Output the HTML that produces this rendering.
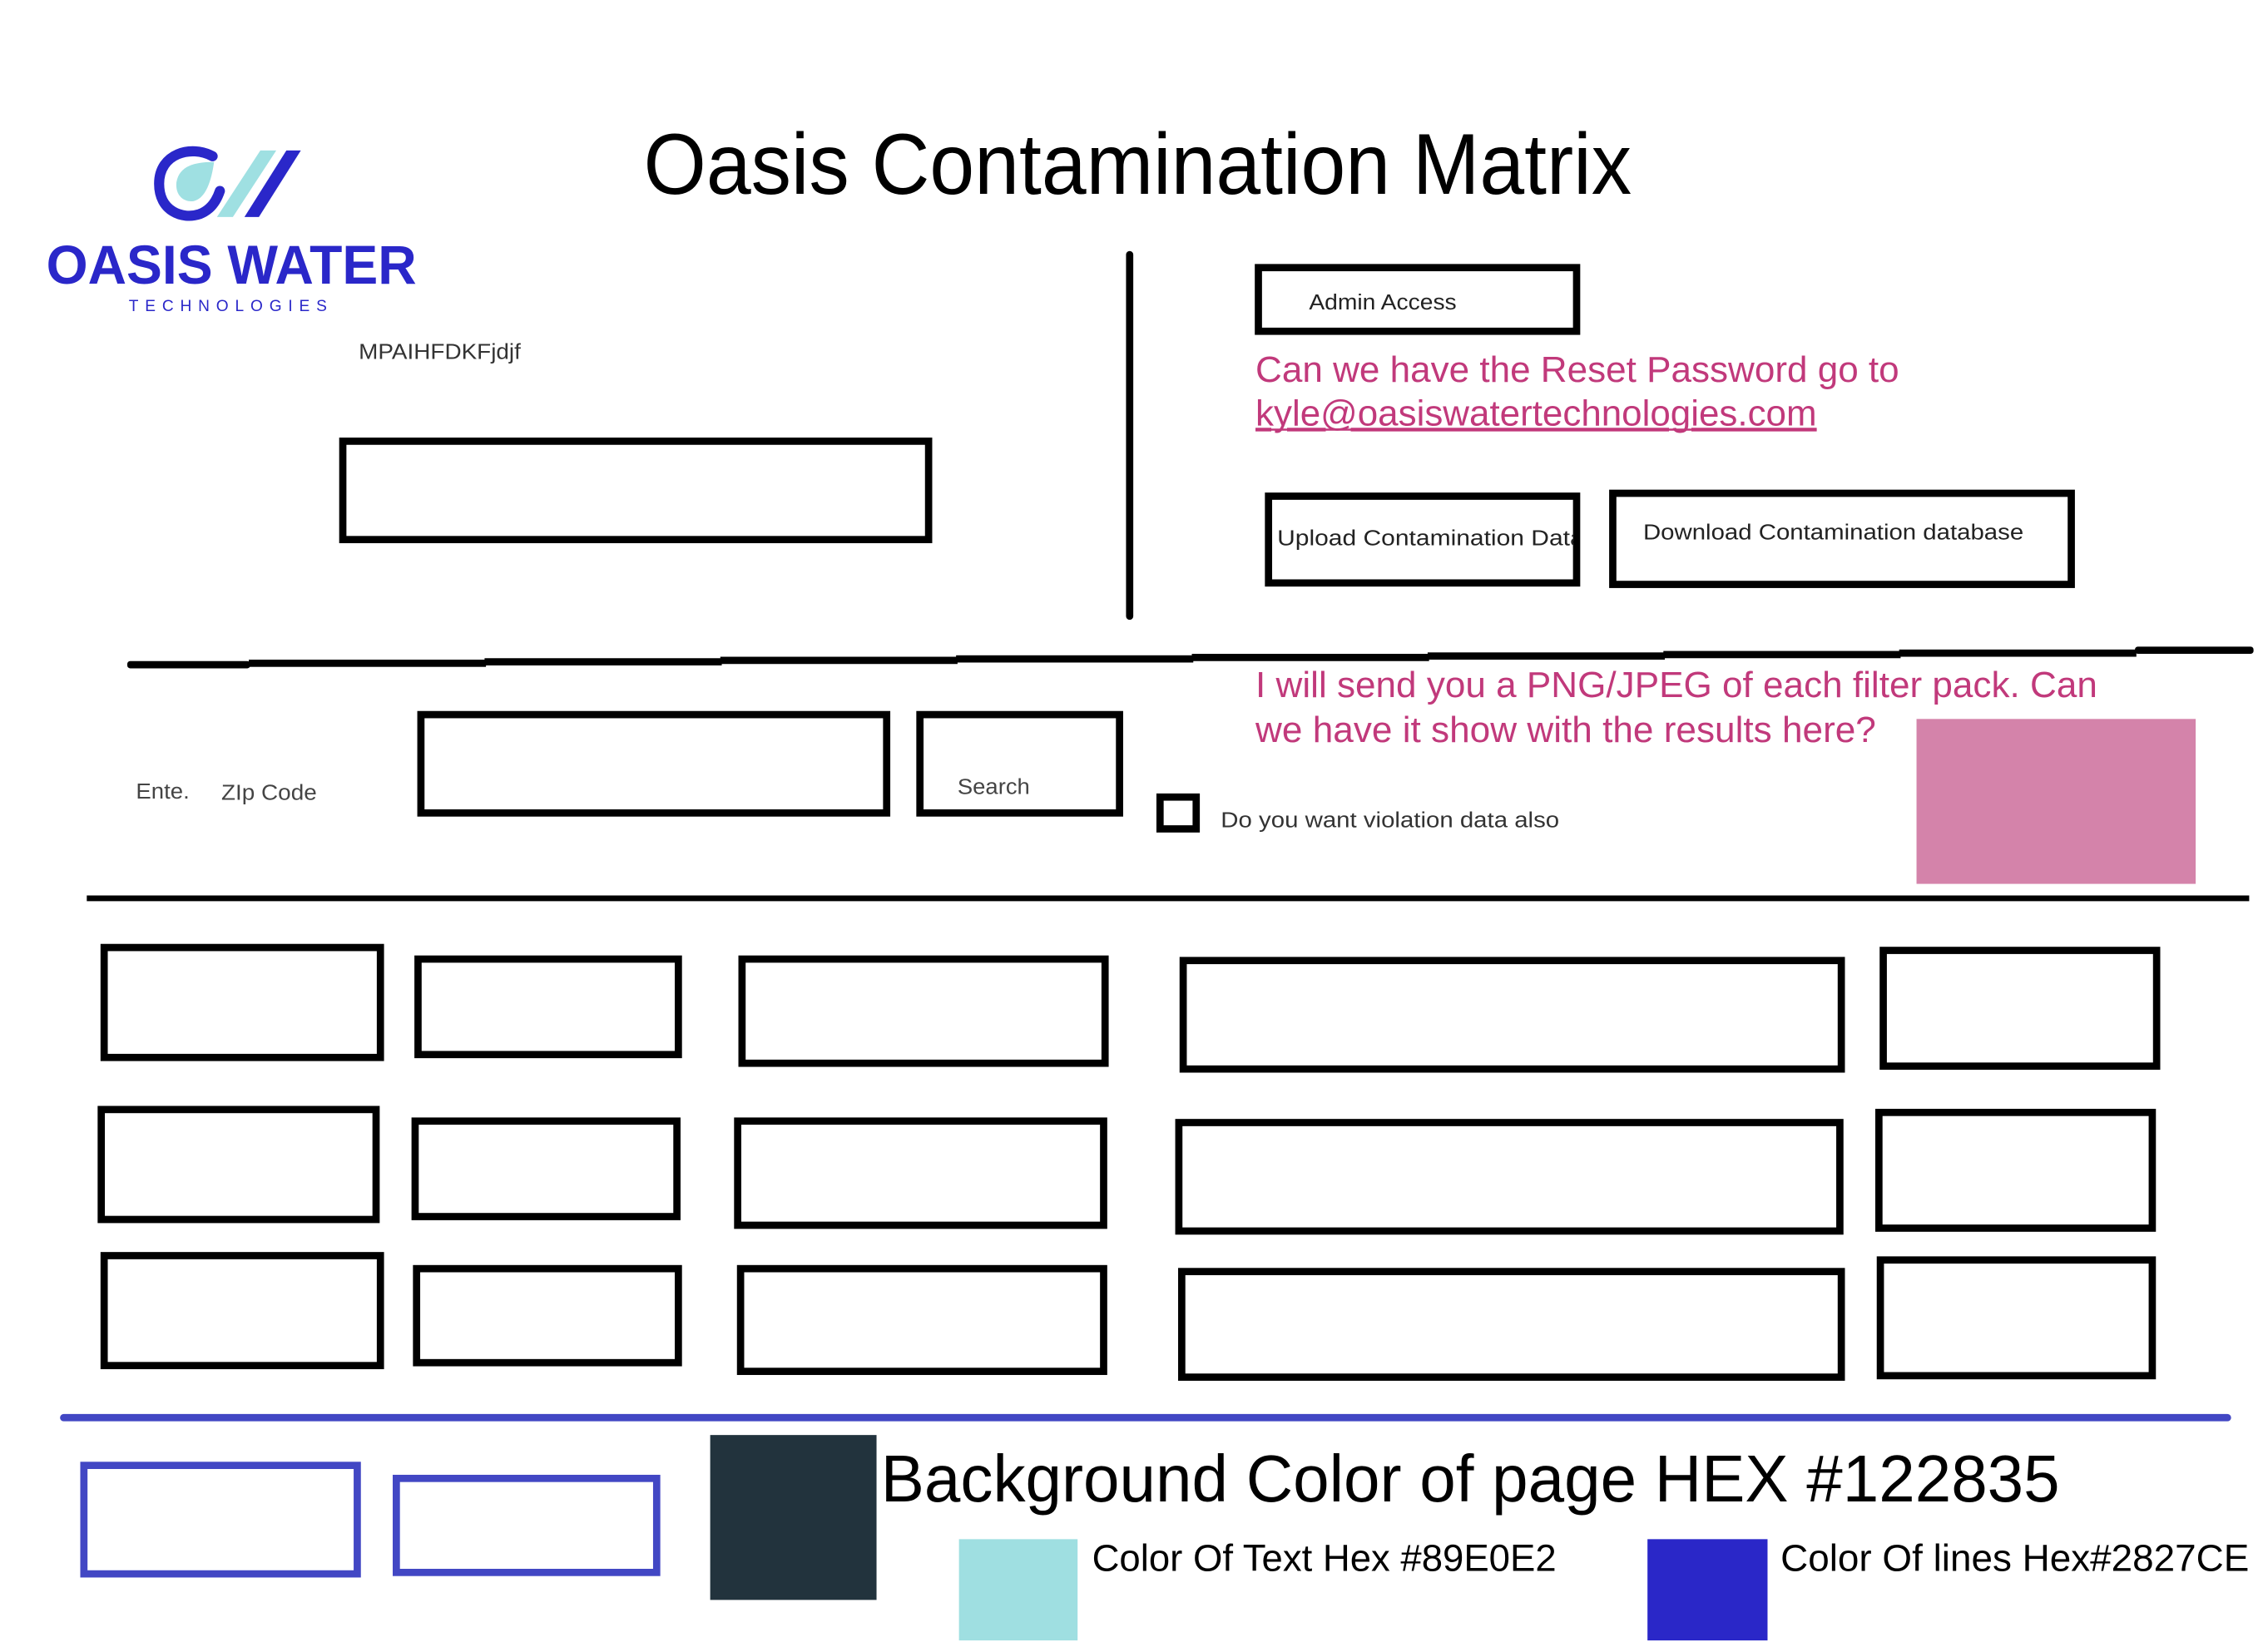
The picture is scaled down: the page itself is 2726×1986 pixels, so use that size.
<!DOCTYPE html>
<html><head><meta charset="utf-8"><style>
html,body{margin:0;padding:0;background:#fff;}
svg{display:block;}
text{font-family:"Liberation Sans",sans-serif;}
</style></head><body>
<svg width="2726" height="1986" viewBox="0 0 1568 1142" preserveAspectRatio="none" xmlns="http://www.w3.org/2000/svg">
<rect x="0" y="0" width="1568" height="1142" fill="#fff"/>
<!-- logo mark -->
<path d="M147 108 C132 100 110 106 110 127 C110 146 126 152 138 148 C146 145 150 138 152 132" fill="none" stroke="#2a27c9" stroke-width="7" stroke-linecap="round"/>
<path d="M148 112 C136 112 124 114 122 126 C121 136 128 140 134 139 C142 137 146 126 148 112 Z" fill="#9fe0e2"/>
<polygon points="180,104 191,104 161,150 150,150" fill="#9fe0e2"/>
<polygon points="198,104 208,104 179,150 169,150" fill="#2a27c9"/>
<text x="32" y="196" font-size="38" font-weight="bold" fill="#2a27c9" textLength="256" lengthAdjust="spacingAndGlyphs">OASIS WATER</text>
<text x="89" y="215" font-size="11" fill="#2a27c9" textLength="137" lengthAdjust="spacing">TECHNOLOGIES</text>
<text x="248" y="248" font-size="15" fill="#333" textLength="112" lengthAdjust="spacingAndGlyphs">MPAIHFDKFjdjf</text>
<!-- title -->
<text x="445" y="134" font-size="60" fill="#000" textLength="683" lengthAdjust="spacingAndGlyphs">Oasis Contamination Matrix</text>
<g fill="none" stroke="#000" stroke-width="5">
<rect x="237" y="305" width="405" height="68"/>
<rect x="870" y="185" width="220" height="44"/>
<rect x="877" y="343" width="213" height="60"/>
<rect x="1115" y="341" width="317" height="63"/>
<rect x="291" y="494" width="322" height="68"/>
<rect x="636" y="494" width="138" height="68"/>
<rect x="802" y="551" width="25" height="22"/>
<!-- grid -->
<rect x="72" y="655" width="191" height="76"/>
<rect x="289" y="663" width="180" height="66"/>
<rect x="513" y="663" width="251" height="72"/>
<rect x="818" y="664" width="455" height="75"/>
<rect x="1302" y="657" width="189" height="80"/>
<rect x="70" y="767" width="190" height="76"/>
<rect x="287" y="775" width="181" height="66"/>
<rect x="510" y="775" width="253" height="72"/>
<rect x="815" y="776" width="457" height="75"/>
<rect x="1299" y="769" width="189" height="80"/>
<rect x="72" y="868" width="191" height="76"/>
<rect x="288" y="877" width="181" height="65"/>
<rect x="512" y="877" width="251" height="71"/>
<rect x="817" y="879" width="456" height="73"/>
<rect x="1300" y="871" width="188" height="80"/>
</g>
<line x1="781" y1="176" x2="781" y2="426" stroke="#000" stroke-width="5" stroke-linecap="round"/>
<!-- stepped line -->
<g fill="#000">
<rect x="88" y="457" width="85" height="5" rx="2"/>
<rect x="172" y="456" width="164" height="5"/>
<rect x="335" y="455" width="164" height="5"/>
<rect x="498" y="454" width="164" height="5"/>
<rect x="661" y="453" width="164" height="5"/>
<rect x="824" y="452" width="164" height="5"/>
<rect x="987" y="451" width="164" height="5"/>
<rect x="1150" y="450" width="164" height="5"/>
<rect x="1313" y="449" width="164" height="5"/>
<rect x="1476" y="447" width="82" height="5" rx="2"/>
</g>
<line x1="60" y1="621" x2="1555" y2="621" stroke="#000" stroke-width="4"/>
<!-- texts -->
<text x="905" y="214" font-size="15" fill="#222" textLength="102" lengthAdjust="spacingAndGlyphs">Admin Access</text>
<text x="868" y="264" font-size="25" fill="#c1397b" textLength="445" lengthAdjust="spacingAndGlyphs">Can we have the Reset Password go to</text>
<text x="868" y="294" font-size="25" fill="#c1397b" text-decoration="underline" textLength="388" lengthAdjust="spacingAndGlyphs">kyle@oasiswatertechnologies.com</text>
<line x1="868" y1="297" x2="1256" y2="297" stroke="#c1397b" stroke-width="1.5"/>
<svg x="879" y="345" width="209" height="56"><text x="4" y="32" font-size="15" fill="#222" textLength="212" lengthAdjust="spacingAndGlyphs">Upload Contamination Data</text></svg>
<text x="1136" y="373" font-size="15" fill="#222" textLength="263" lengthAdjust="spacingAndGlyphs">Download Contamination database</text>
<text x="868" y="482" font-size="25" fill="#c1397b" textLength="582" lengthAdjust="spacingAndGlyphs">I will send you a PNG/JPEG of each filter pack. Can</text>
<text x="868" y="513" font-size="25" fill="#c1397b" textLength="429" lengthAdjust="spacingAndGlyphs">we have it show with the results here?</text>
<rect x="1325" y="497" width="193" height="114" fill="#d483aa"/>
<text x="94" y="552" font-size="15" fill="#444" textLength="37" lengthAdjust="spacingAndGlyphs">Ente.</text>
<text x="153" y="553" font-size="15" fill="#444" textLength="66" lengthAdjust="spacingAndGlyphs">ZIp Code</text>
<text x="662" y="549" font-size="15" fill="#444" textLength="50" lengthAdjust="spacingAndGlyphs">Search</text>
<text x="844" y="572" font-size="15" fill="#333" textLength="234" lengthAdjust="spacingAndGlyphs">Do you want violation data also</text>
<!-- bottom -->
<line x1="44" y1="980" x2="1540" y2="980" stroke="#4247c4" stroke-width="5" stroke-linecap="round"/>
<rect x="58" y="1013" width="189" height="75" fill="none" stroke="#4247c4" stroke-width="5"/>
<rect x="274" y="1022" width="180" height="65" fill="none" stroke="#4247c4" stroke-width="5"/>
<rect x="491" y="992" width="115" height="114" fill="#22333d"/>
<text x="609" y="1038" font-size="46" fill="#000" textLength="815" lengthAdjust="spacingAndGlyphs">Background Color of page HEX #122835</text>
<rect x="663" y="1064" width="82" height="70" fill="#9fdfe1"/>
<text x="755" y="1086" font-size="26" fill="#000" textLength="321" lengthAdjust="spacingAndGlyphs">Color Of Text Hex #89E0E2</text>
<rect x="1139" y="1064" width="83" height="70" fill="#2a27c8"/>
<text x="1231" y="1086" font-size="26" fill="#000" textLength="324" lengthAdjust="spacingAndGlyphs">Color Of lines Hex#2827CE</text>
</svg>
</body></html>
